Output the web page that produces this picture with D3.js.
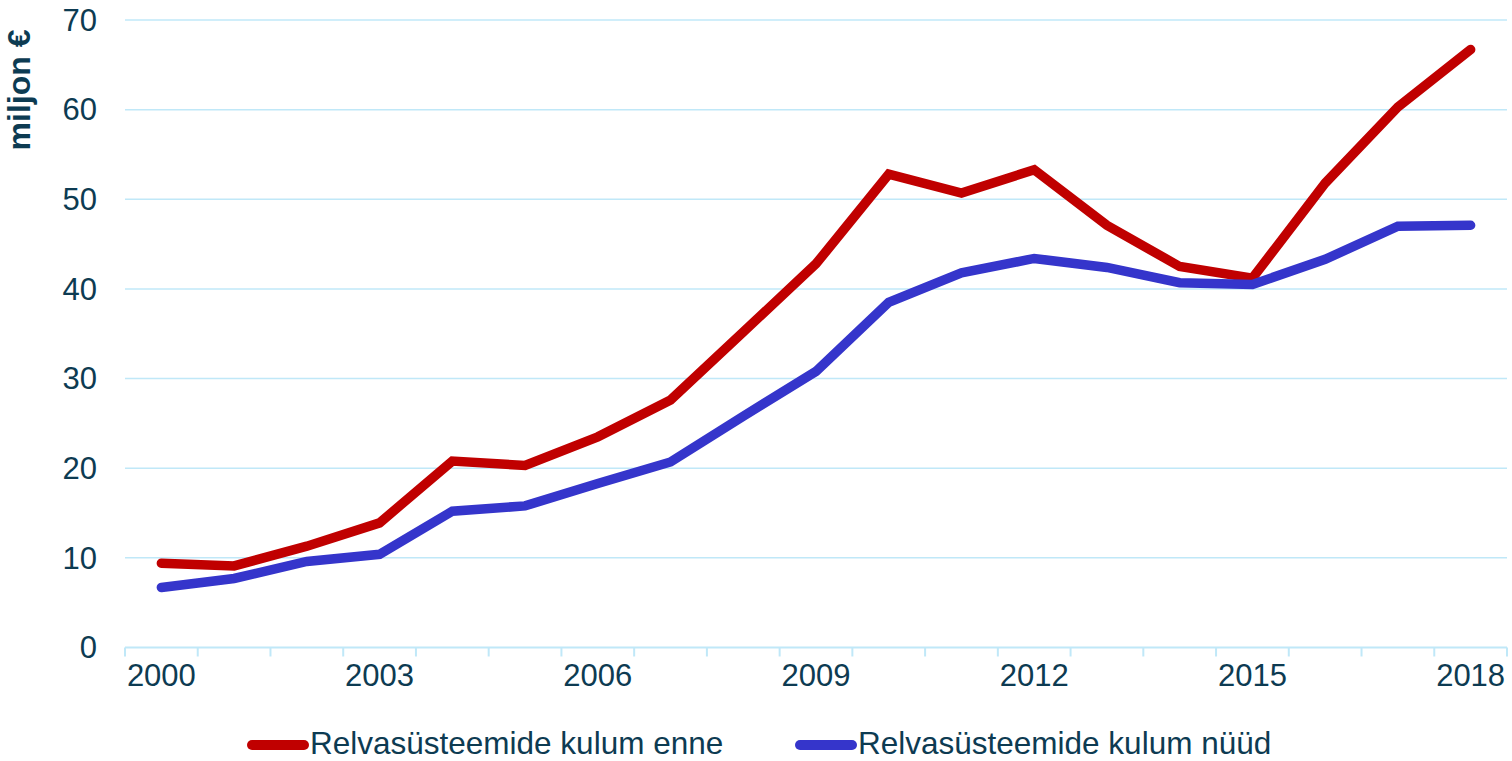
<!DOCTYPE html>
<html>
<head>
<meta charset="utf-8">
<script src="https://cdn.jsdelivr.net/npm/d3@7"></script>
<style>
  body { margin: 0; background: #fff; }
  svg { display: block; font-family: "Liberation Sans", Arial, sans-serif; }
</style>
</head>
<body>
<div id="container"></div>
<script>
var years = ["2000","2001","2002","2003","2004","2005","2006","2007","2008","2009",
             "2010","2011","2012","2013","2014","2015","2016","2017","2018"];
var enne = [9.4, 9.1, 11.3, 13.9, 20.8, 20.3, 23.5, 27.6, 35.2, 42.8,
            52.8, 50.7, 53.3, 47.1, 42.5, 41.2, 51.8, 60.3, 66.7];
var nuud = [6.7, 7.7, 9.6, 10.4, 15.2, 15.8, 18.3, 20.7, 25.8, 30.8,
            38.5, 41.8, 43.4, 42.4, 40.7, 40.5, 43.3, 47.0, 47.1];
var yTicks = [0, 10, 20, 30, 40, 50, 60, 70];
var xLabels = ["2000","2003","2006","2009","2012","2015","2018"];
var seriesNames = ["Relvasüsteemide kulum enne", "Relvasüsteemide kulum nüüd"];

var textCol = "#0d3b52";
var gridCol = "#c0e8f8";
var colors = ["#c00000", "#3535cb"];

var svg = d3.select("#container").append("svg")
  .attr("width", 1512).attr("height", 761);

var x = d3.scaleBand().domain(years).range([125, 1507]).padding(0);
var y = d3.scaleLinear().domain([0, 70]).range([647.5, 20]);

// gridlines
svg.append("g").selectAll("line")
  .data(yTicks.filter(function(d) { return d > 0; }))
  .enter().append("line")
  .attr("x1", 125).attr("x2", 1507)
  .attr("y1", function(d) { return y(d); })
  .attr("y2", function(d) { return y(d); })
  .attr("stroke", gridCol).attr("stroke-width", 1.5);

// y tick labels
svg.append("g").selectAll("text")
  .data(yTicks)
  .enter().append("text")
  .attr("x", 97)
  .attr("y", function(d) { return y(d); })
  .attr("dy", "0.35em")
  .attr("text-anchor", "end")
  .attr("fill", textCol)
  .style("font-size", "31px")
  .text(function(d) { return d; });

// y axis title
svg.append("text")
  .attr("transform", "translate(30,90) rotate(-90)")
  .attr("text-anchor", "middle")
  .attr("fill", textCol)
  .style("font-size", "32px")
  .style("font-weight", "bold")
  .text("miljon €");

// x axis
var xAxis = svg.append("g").attr("transform", "translate(0," + y(0) + ")");
xAxis.append("line")
  .attr("x1", 125).attr("x2", 1507)
  .attr("stroke", gridCol).attr("stroke-width", 2);
xAxis.selectAll(".tk")
  .data(years.concat(["end"]))
  .enter().append("line")
  .attr("x1", function(d) { return d === "end" ? x.range()[1] : x(d); })
  .attr("x2", function(d) { return d === "end" ? x.range()[1] : x(d); })
  .attr("y1", 0).attr("y2", 9)
  .attr("stroke", gridCol).attr("stroke-width", 2);
xAxis.selectAll("text")
  .data(xLabels)
  .enter().append("text")
  .attr("x", function(d) { return x(d) + x.bandwidth() / 2; })
  .attr("y", 38)
  .attr("text-anchor", "middle")
  .attr("fill", textCol)
  .style("font-size", "31px")
  .text(function(d) { return d; });

// lines
var line = d3.line()
  .x(function(d, i) { return x(years[i]) + x.bandwidth() / 2; })
  .y(function(d) { return y(d); });

[enne, nuud].forEach(function(s, k) {
  svg.append("path")
    .datum(s)
    .attr("d", line)
    .attr("fill", "none")
    .attr("stroke", colors[k])
    .attr("stroke-width", 9.5)
    .attr("stroke-linejoin", "miter")
    .attr("stroke-linecap", "round");
});

// legend
var legX = [252, 800];
var legend = svg.append("g").selectAll("g")
  .data(seriesNames)
  .enter().append("g")
  .attr("transform", function(d, i) { return "translate(" + legX[i] + ",745)"; });
legend.append("line")
  .attr("x1", 0).attr("x2", 52)
  .attr("stroke", function(d, i) { return colors[i]; })
  .attr("stroke-width", 10)
  .attr("stroke-linecap", "round");
legend.append("text")
  .attr("x", 58)
  .attr("y", 9)
  .attr("fill", textCol)
  .style("font-size", "31.5px")
  .text(function(d) { return d; });
</script>
</body>
</html>
